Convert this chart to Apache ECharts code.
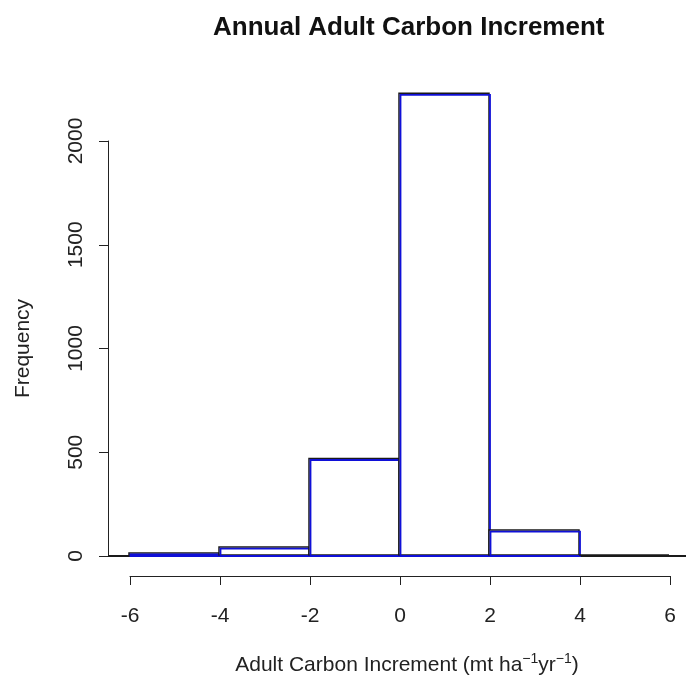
<!DOCTYPE html>
<html>
<head>
<meta charset="utf-8">
<script src="https://cdn.jsdelivr.net/npm/echarts@6/dist/echarts.min.js"></script>
<style>
  html, body { margin: 0; padding: 0; background: #fff; overflow: hidden; }
  #chart { width: 686px; height: 681px; }
</style>
</head>
<body>
<div id="chart"></div>
<script>
// Histogram bins (left edge, right edge) and counts
const binStarts = [-6, -4, -2, 0, 2, 4];
const binEnds = [-4, -2, 0, 2, 4, 6];
const counts = [10, 38, 465, 2225, 120, 0];

const xTicks = [-6, -4, -2, 0, 2, 4, 6];
const yTicks = [0, 500, 1000, 1500, 2000];

const bins = binStarts.map((s, i) => [s, binEnds[i], counts[i]]);

const FONT = '"Liberation Sans", Arial, sans-serif';
const INK = '#222';

const chart = echarts.init(document.getElementById('chart'), null, { renderer: 'canvas' });

chart.setOption({
  backgroundColor: '#fff',
  animation: false,
  title: {
    text: 'Annual Adult Carbon Increment',
    left: 208,
    top: 10,
    textStyle: { fontFamily: FONT, fontSize: 26, fontWeight: 'bold', color: '#111' }
  },
  grid: { left: 130, right: 16, top: 141, bottom: 125, outerBoundsMode: 'none' },
  xAxis: {
    type: 'value',
    min: xTicks[0],
    max: xTicks[xTicks.length - 1],
    interval: 2,
    offset: 20,
    splitLine: { show: false },
    axisLine: { show: true, onZero: false, lineStyle: { color: INK, width: 1 } },
    axisTick: { show: true, length: 9, lineStyle: { color: INK } },
    axisLabel: { fontFamily: FONT, fontSize: 21, color: INK, margin: 30 },
    name: '{a|Adult Carbon Increment (mt ha}{s|\u22121}{a|yr}{s|\u22121}{a|)}',
    nameLocation: 'middle',
    nameGap: 76,
    nameTextStyle: {
      padding: [0, 0, 0, 14],
      rich: {
        a: { fontFamily: FONT, fontSize: 21, color: INK, lineHeight: 26 },
        s: { fontFamily: FONT, fontSize: 14, color: INK, verticalAlign: 'top', lineHeight: 26, padding: [0, 0, 10, 0] }
      }
    }
  },
  yAxis: {
    type: 'value',
    min: yTicks[0],
    max: yTicks[yTicks.length - 1],
    interval: 500,
    offset: 22,
    splitLine: { show: false },
    axisLine: { show: true, onZero: false, lineStyle: { color: INK, width: 1 } },
    axisTick: { show: true, length: 9, lineStyle: { color: INK } },
    axisLabel: { fontFamily: FONT, fontSize: 21, color: INK, rotate: 90, margin: 21, formatter: v => String(v) },
    name: 'Frequency',
    nameLocation: 'middle',
    nameGap: 74,
    nameRotate: 90,
    nameTextStyle: { fontFamily: FONT, fontSize: 21, color: INK }
  },
  series: [
    {
      // horizontal reference line at zero across the plot region
      type: 'custom',
      clip: false,
      silent: true,
      z: 1,
      data: [[0]],
      renderItem: function (params, api) {
        const cs = params.coordSys;
        const y = api.coord([0, api.value(0)])[1];
        return {
          type: 'line',
          shape: { x1: cs.x - 22, y1: y, x2: cs.x + cs.width + 16, y2: y },
          style: { stroke: '#1a1a1a', lineWidth: 2 }
        };
      }
    },
    {
      type: 'custom',
      clip: false,
      silent: true,
      z: 2,
      data: bins,
      renderItem: function (params, api) {
        const x0 = api.value(0), x1 = api.value(1), c = api.value(2);
        const p0 = api.coord([x0, c]);
        const p1 = api.coord([x1, 0]);
        const w = p1[0] - p0[0];
        const h = p1[1] - p0[1];
        const children = [{
          type: 'rect',
          shape: { x: p0[0] - 1, y: p0[1] - 1, width: w, height: h },
          style: { fill: '#fff', stroke: '#1a1a1a', lineWidth: 1.5 }
        }];
        if (c > 0) {
          children.push({
            type: 'rect',
            shape: { x: p0[0] + 0.5, y: p0[1] + 0.5, width: w - 0.5, height: h - 0.5 },
            style: { fill: 'none', stroke: '#1010d8', lineWidth: 1.8 }
          });
        }
        return { type: 'group', children: children };
      }
    }
  ]
});
</script>
</body>
</html>
